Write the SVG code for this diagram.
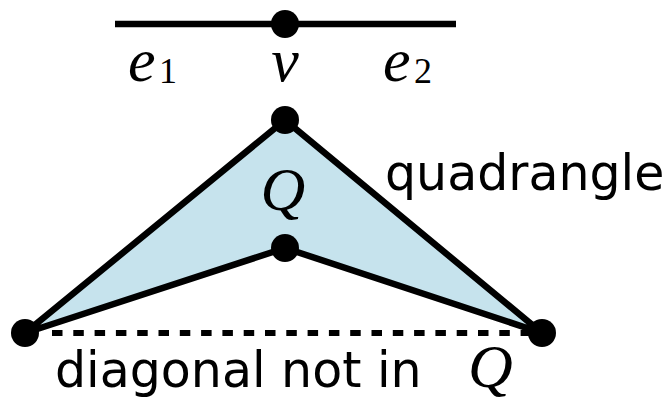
<svg xmlns="http://www.w3.org/2000/svg" width="671" height="401" viewBox="0 0 671 401">
<style>
.edge{stroke:#000;stroke-width:6.5;fill:none;stroke-linejoin:round}
.dot{fill:#000}
.math{font-family:"Liberation Serif",serif;font-style:italic;fill:#000}
.sub{font-family:"Liberation Serif",serif;font-style:normal;fill:#000}
.sans{font-family:"DejaVu Sans","Liberation Sans",sans-serif;fill:#000}
</style>
<rect width="671" height="401" fill="#fff"/>
<g id="connectors">
<line class="edge" x1="115" y1="24" x2="456" y2="24"/>
<polygon id="quad" points="285,120 542,333 285,248 25,333" fill="#c6e3ed" stroke="#000" stroke-width="6.5" stroke-linejoin="round"/>
<line x1="52" y1="333" x2="531" y2="333" stroke="#000" stroke-width="6" stroke-dasharray="10.5,10.8"/>
</g>
<g id="v"><circle class="dot" cx="285" cy="24" r="14"/></g>
<g id="top"><circle class="dot" cx="285" cy="120" r="14"/></g>
<g id="inner"><circle class="dot" cx="285" cy="248" r="14"/></g>
<g id="left"><circle class="dot" cx="25" cy="333" r="14"/></g>
<g id="right"><circle class="dot" cx="542" cy="333" r="14"/></g>
<g id="labels">
<text class="math" x="128" y="81" font-size="62">e<tspan class="sub" font-size="36" x="159" y="83">1</tspan></text>
<text class="math" x="285" y="81" font-size="62" text-anchor="middle">v</text>
<text class="math" x="383" y="81" font-size="62">e<tspan class="sub" font-size="36" x="414" y="83">2</tspan></text>
<text class="math" x="283" y="210" font-size="62" text-anchor="middle">Q</text>
<text class="sans" x="385" y="190" font-size="49">quadrangle</text>
<text class="sans" x="55" y="387" font-size="49">diagonal not in</text>
<text class="math" x="468" y="387" font-size="62">Q</text>
</g>
</svg>
